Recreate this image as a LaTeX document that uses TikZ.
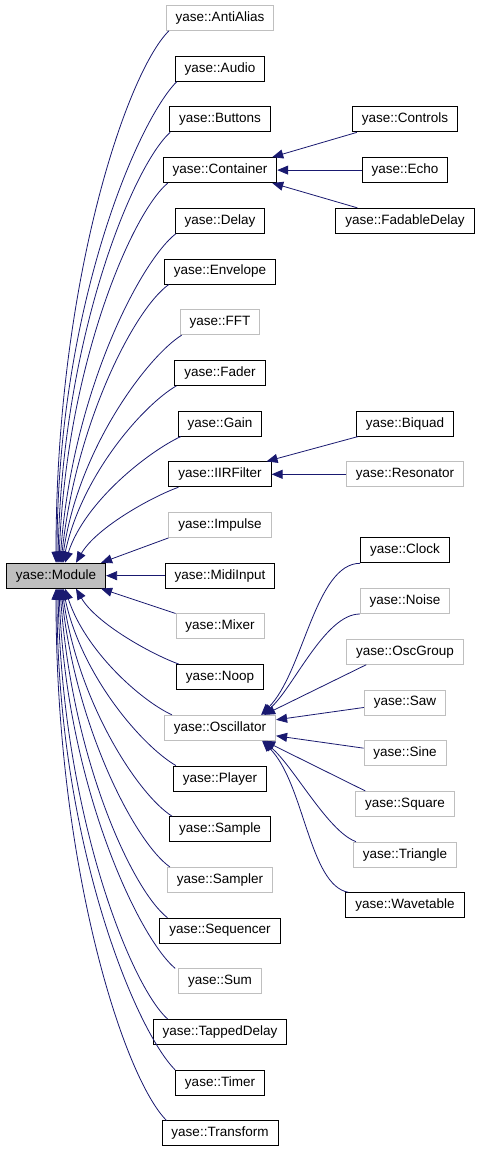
\documentclass[tikz,border=0pt]{standalone}
\usepackage{fontspec}
\setmainfont{Liberation Sans}
\usetikzlibrary{arrows.meta,positioning}
\definecolor{edgeblue}{RGB}{25,25,112}
\definecolor{greyline}{RGB}{191,191,191}

\begin{document}
\begin{tikzpicture}[x=1pt,y=1pt,node distance=50.7pt,
  cls/.style={draw=black, line width=0.9pt, minimum height=25pt, inner xsep=9.5pt, inner ysep=0pt,
    font=\fontsize{13.5}{16}\selectfont},
  nodoc/.style={draw=greyline},
  inh/.style={{Triangle[length=11pt,width=9pt]}-, draw=edgeblue, line width=0.8pt}]
  \path[fill=white,use as bounding box] (0,0) rectangle (480,-1152);

  % derived classes of Module
  \node (aa)     [cls, nodoc] at (220,-18) {yase::AntiAlias};
  \node (audio)  [below of=aa, cls] {yase::Audio};
  \node (btn)    [below of=audio, cls] {yase::Buttons};
  \node (cont)   [below of=btn, cls] {yase::Container};
  \node (delay)  [below of=cont, cls] {yase::Delay};
  \node (env)    [below of=delay, cls] {yase::Envelope};
  \node (fft)    [below of=env, cls, nodoc] {yase::FFT};
  \node (fader)  [below of=fft, cls] {yase::Fader};
  \node (gain)   [below of=fader, cls] {yase::Gain};
  \node (iir)    [below of=gain, cls] {yase::IIRFilter};
  \node (imp)    [below of=iir, cls, nodoc] {yase::Impulse};
  \node (midi)   [below of=imp, cls] {yase::MidiInput};
  \node (mixer)  [below of=midi, cls, nodoc] {yase::Mixer};
  \node (noop)   [below of=mixer, cls] {yase::Noop};
  \node (osc)    [below of=noop, cls, nodoc] {yase::Oscillator};
  \node (player) [below of=osc, cls] {yase::Player};
  \node (sample) [below of=player, cls] {yase::Sample};
  \node (smplr)  [below of=sample, cls, nodoc] {yase::Sampler};
  \node (seq)    [below of=smplr, cls] {yase::Sequencer};
  \node (sum)    [below of=seq, cls, nodoc] {yase::Sum};
  \node (tapped) [below of=sum, cls] {yase::TappedDelay};
  \node (timer)  [below of=tapped, cls] {yase::Timer};
  \node (transf) [below of=timer, cls] {yase::Transform};

  \node (module) [left of=midi, node distance=164pt, cls, fill=greyline] {yase::Module};

  % third column
  \node (ctrl)   [right of=btn, node distance=185pt, cls] {yase::Controls};
  \node (echo)   [right of=cont, node distance=185pt, cls] {yase::Echo};
  \node (fdel)   [right of=delay, node distance=185pt, cls] {yase::FadableDelay};
  \node (biq)    [right of=gain, node distance=185pt, cls] {yase::Biquad};
  \node (reso)   [right of=iir, node distance=185pt, cls, nodoc] {yase::Resonator};
  \node (clock)  [cls] at (405,-550.35) {yase::Clock};
  \node (noise)  [below of=clock, cls, nodoc] {yase::Noise};
  \node (oscg)   [below of=noise, cls, nodoc] {yase::OscGroup};
  \node (saw)    [below of=oscg, cls, nodoc] {yase::Saw};
  \node (sine)   [below of=saw, cls, nodoc] {yase::Sine};
  \node (square) [below of=sine, cls, nodoc] {yase::Square};
  \node (tri)    [below of=square, cls, nodoc] {yase::Triangle};
  \node (wave)   [below of=tri, cls] {yase::Wavetable};

  % inheritance, upper half
  \draw[inh] (module.north) to[out=90,in=225,out distance=280pt,in distance=60pt] ([xshift=3pt]aa.south west);
  \draw[inh] ([xshift=1pt]module.north) to[out=90,in=225,out distance=255pt,in distance=55pt] ([xshift=2pt]audio.south west);
  \draw[inh] ([xshift=2pt]module.north) to[out=89,in=222,out distance=225pt,in distance=50pt] ([xshift=1pt]btn.south west);
  \draw[inh] ([xshift=3pt]module.north) to[out=88,in=220,out distance=195pt,in distance=48pt] ([xshift=5pt]cont.south west);
  \draw[inh] ([xshift=4pt]module.north) to[out=86,in=218,out distance=170pt,in distance=45pt] ([xshift=1pt]delay.south west);
  \draw[inh] ([xshift=5pt]module.north) to[out=84,in=215,out distance=140pt,in distance=42pt] ([xshift=5pt]env.south west);
  \draw[inh] ([xshift=6pt]module.north) to[out=82,in=212,out distance=115pt,in distance=40pt] ([xshift=2pt]fft.south west);
  \draw[inh] ([xshift=7pt]module.north) to[out=78,in=210,out distance=90pt,in distance=38pt] ([xshift=2pt]fader.south west);
  \draw[inh] ([xshift=9pt]module.north) to[out=72,in=205,out distance=65pt,in distance=35pt] ([xshift=3pt]gain.south west);
  \draw[inh] ([xshift=20pt]module.north) to[out=60,in=200,out distance=40pt,in distance=30pt] ([xshift=10pt]iir.south west);
  \draw[inh] ([xshift=-5pt]module.north east) -- (imp.south west);
  \draw[inh] (module.east) -- (midi.west);

  % inheritance, lower half
  \draw[inh] ([xshift=-5pt]module.south east) -- (mixer.north west);
  \draw[inh] ([xshift=20pt]module.south) to[out=-60,in=160,out distance=40pt,in distance=30pt] ([xshift=3pt]noop.north west);
  \draw[inh] ([xshift=9pt]module.south) to[out=-72,in=155,out distance=65pt,in distance=35pt] ([xshift=8pt]osc.north west);
  \draw[inh] ([xshift=7pt]module.south) to[out=-78,in=150,out distance=90pt,in distance=38pt] ([xshift=3pt]player.north west);
  \draw[inh] ([xshift=6pt]module.south) to[out=-82,in=148,out distance=115pt,in distance=40pt] ([xshift=3pt]sample.north west);
  \draw[inh] ([xshift=5pt]module.south) to[out=-84,in=145,out distance=140pt,in distance=42pt] ([xshift=3pt]smplr.north west);
  \draw[inh] ([xshift=4pt]module.south) to[out=-86,in=142,out distance=170pt,in distance=45pt] ([xshift=8pt]seq.north west);
  \draw[inh] ([xshift=3pt]module.south) to[out=-88,in=140,out distance=195pt,in distance=48pt] ([xshift=-3pt]sum.north west);
  \draw[inh] ([xshift=2pt]module.south) to[out=-89,in=138,out distance=225pt,in distance=50pt] ([xshift=15pt]tapped.north west);
  \draw[inh] ([xshift=1pt]module.south) to[out=-90,in=135,out distance=255pt,in distance=55pt] (timer.north west);
  \draw[inh] (module.south) to[out=-90,in=135,out distance=280pt,in distance=60pt] ([xshift=5pt]transf.north west);

  % second level
  \draw[inh] ([xshift=-5pt]cont.north east) -- ([xshift=5pt]ctrl.south west);
  \draw[inh] (cont.east) -- (echo.west);
  \draw[inh] ([xshift=-5pt]cont.south east) -- ([xshift=22pt]fdel.north west);
  \draw[inh] ([xshift=-5pt]iir.north east) -- ([xshift=2pt]biq.south west);
  \draw[inh] (iir.east) -- (reso.west);
  \draw[inh] ([xshift=-15pt]osc.north east) to[out=45,in=180,out distance=60pt,in distance=45pt] (clock.south west);
  \draw[inh] ([xshift=-14pt]osc.north east) to[out=40,in=180,out distance=40pt,in distance=35pt] (noise.south west);
  \draw[inh] ([xshift=-12pt]osc.north east) -- ([xshift=20pt]oscg.south west);
  \draw[inh] ([yshift=8pt]osc.east) -- ([yshift=-5pt]saw.west);
  \draw[inh] ([yshift=-8pt]osc.east) -- ([yshift=5pt]sine.west);
  \draw[inh] ([xshift=-12pt]osc.south east) -- ([xshift=10pt]square.north west);
  \draw[inh] ([xshift=-13pt]osc.south east) to[out=-40,in=160,out distance=40pt,in distance=30pt] ([xshift=3pt]tri.north west);
  \draw[inh] ([xshift=-14pt]osc.south east) to[out=-45,in=170,out distance=60pt,in distance=40pt] ([xshift=3pt]wave.north west);
\end{tikzpicture}
\end{document}
